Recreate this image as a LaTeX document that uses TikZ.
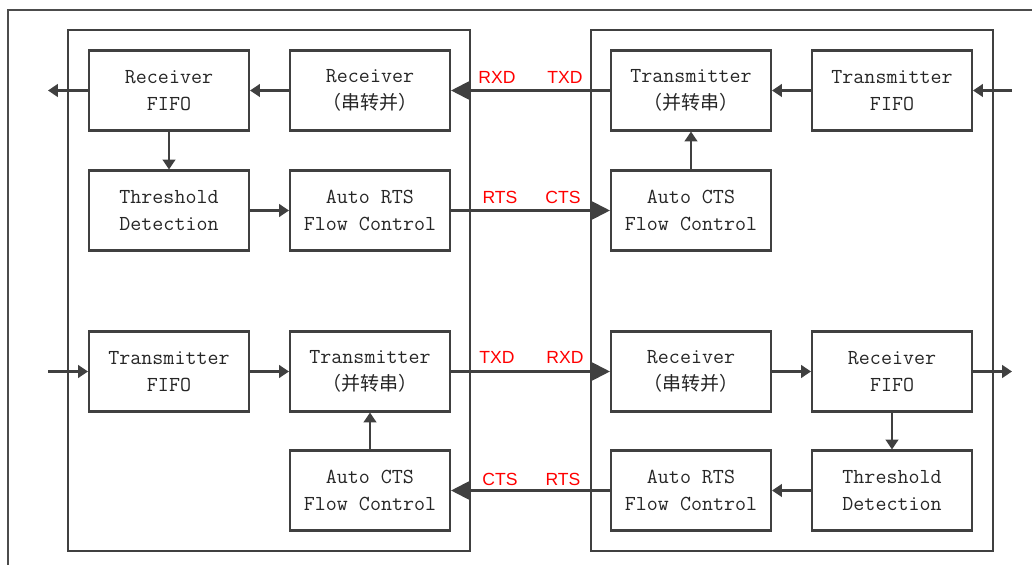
\documentclass[tikz,border=0pt]{standalone}
\usepackage{fontspec}
\setsansfont{Liberation Sans}
\newfontfamily\cjk{Noto Sans CJK SC}
\usepackage{tikz}
\usetikzlibrary{arrows.meta,positioning}

\begin{document}
\begin{tikzpicture}[font=\ttfamily\fontsize{15.2}{19}\selectfont, text=black!85]
\tikzset{el/.style={draw=black!75, line width=1.5pt, rectangle, minimum width=4cm, minimum height=2cm, align=center, inner sep=0pt},
  chip/.style={draw=black!75, line width=1.5pt, rectangle, minimum width=10.05cm, minimum height=13.025cm},
  sig/.style={font=\sffamily\fontsize{12.5}{14}\selectfont, text=red, inner sep=0pt},
  wire/.style={draw=black!75, line width=1.5pt, -{Triangle[length=7pt,width=9pt]}},
  bus/.style={draw=black!75, line width=1.6pt, -{Triangle[length=14pt,width=14pt]}}}

\useasboundingbox (0,0) rectangle (25.8,-14.125);

% outer frame (cut by the page)
\draw[black!70, line width=1.2pt] (0.2,-14.125) -- (0.2,-0.25) -- (25.8,-0.25);

% the two devices
\node[chip] (chipL) at (6.725,-7.2625) {};
\node[chip] (chipR) at (19.8,-7.2625) {};

% Left device
\node[el] (rxfifoL) at (4.225,-2.2625) {Receiver\\FIFO};
\node[el] (rxL) at (9.25,-2.2625) {Receiver\\{\cjk\fontsize{13.5}{19}\selectfont （串转并）}};
\node[el] (threshL) at (4.225,-5.2625) {Threshold\\Detection};
\node[el] (rtsL) at (9.25,-5.2625) {Auto RTS\\Flow Control};
\node[el] (txfifoL) at (4.225,-9.2875) {Transmitter\\FIFO};
\node[el] (txL) at (9.25,-9.2875) {Transmitter\\{\cjk\fontsize{13.5}{19}\selectfont （并转串）}};
\node[el] (ctsL) at (9.25,-12.2625) {Auto CTS\\Flow Control};

% Right device
\node[el] (txR) at (17.275,-2.2625) {Transmitter\\{\cjk\fontsize{13.5}{19}\selectfont （并转串）}};
\node[el] (txfifoR) at (22.3,-2.2625) {Transmitter\\FIFO};
\node[el] (ctsR) at (17.275,-5.2625) {Auto CTS\\Flow Control};
\node[el] (rxR) at (17.275,-9.2875) {Receiver\\{\cjk\fontsize{13.5}{19}\selectfont （串转并）}};
\node[el] (rxfifoR) at (22.3,-9.2875) {Receiver\\FIFO};
\node[el] (rtsR) at (17.275,-12.2625) {Auto RTS\\Flow Control};
\node[el] (threshR) at (22.3,-12.2625) {Threshold\\Detection};

% free ends
\coordinate (outL) at (1.2,-2.2625);
\coordinate (inR) at (25.3,-2.2625);
\coordinate (inL) at (1.2,-9.2875);
\coordinate (outR) at (25.3,-9.2875);

% Signal names
\node[sig] (rxd1) at (12.425,-1.925) {RXD};
\node[sig] (txd1) at (14.125,-1.925) {TXD};
\node[sig] (rts1) at (12.5,-4.925) {RTS};
\node[sig] (cts1) at (14.075,-4.925) {CTS};
\node[sig] (txd2) at (12.425,-8.925) {TXD};
\node[sig] (rxd2) at (14.125,-8.925) {RXD};
\node[sig] (cts2) at (12.5,-11.975) {CTS};
\node[sig] (rts2) at (14.075,-11.975) {RTS};

% Connections
\draw[wire] (rxL) -- (rxfifoL);
\draw[wire] (rxfifoL) -- (outL);
\draw[wire] (rxfifoL) -- (threshL);
\draw[wire] (threshL) -- (rtsL);
\draw[wire] (inL) -- (txfifoL);
\draw[wire] (txfifoL) -- (txL);
\draw[wire] (ctsL) -- (txL);

\draw[wire] (inR) -- (txfifoR);
\draw[wire] (txfifoR) -- (txR);
\draw[wire] (ctsR) -- (txR);
\draw[wire] (rxR) -- (rxfifoR);
\draw[wire] (rxfifoR) -- (outR);
\draw[wire] (rxfifoR) -- (threshR);
\draw[wire] (threshR) -- (rtsR);

\draw[bus] (txR) -- (rxL);
\draw[bus] (rtsL) -- (ctsR);
\draw[bus] (txL) -- (rxR);
\draw[bus] (rtsR) -- (ctsL);

\end{tikzpicture}
\end{document}
